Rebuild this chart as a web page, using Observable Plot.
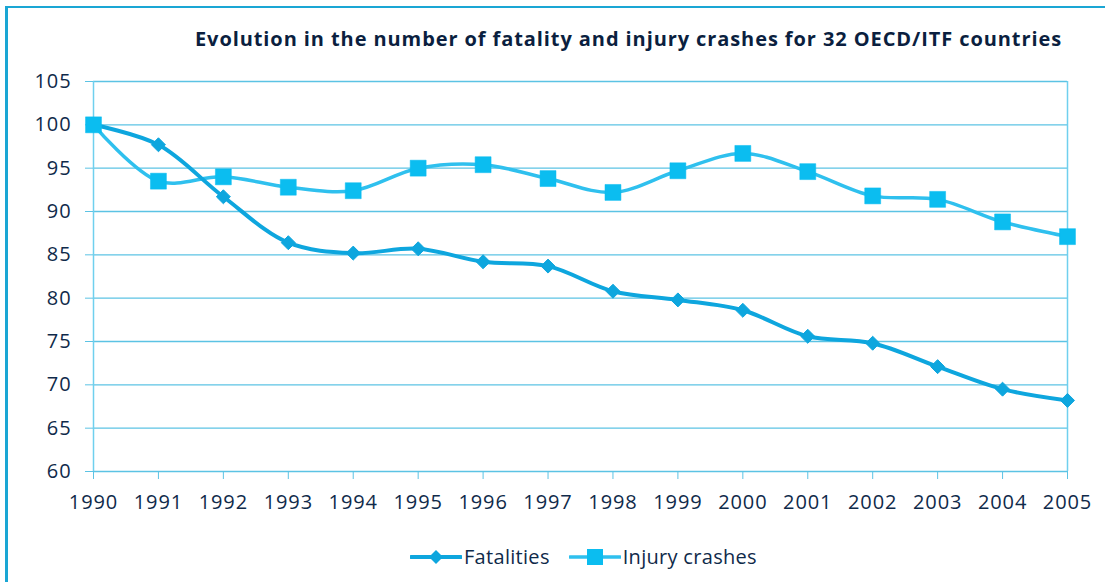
<!DOCTYPE html>
<html>
<head>
<meta charset="utf-8">
<script src="https://cdn.jsdelivr.net/npm/d3@7"></script>
<script src="https://cdn.jsdelivr.net/npm/@observablehq/plot@0.6"></script>
<style>
  html, body { margin: 0; padding: 0; background: #fff; }
  #frame { position: relative; width: 1105px; height: 582px; overflow: hidden; background: #fff; }
  #border { position: absolute; left: 5px; top: 6px; right: -10px; bottom: -10px;
            border-left: 3px solid #1aa6d4; border-top: 2px solid #1aa6d4; }
  #title { position: absolute; top: 25px; left: 195px; white-space: nowrap;
           font-family: "Open Sans", sans-serif; font-weight: 700; font-size: 20px;
           color: #0b1f3f; }
  #chart { position: absolute; left: 0; top: 0; }
  #legend { position: absolute; top: 543px; left: 410px; display: flex; align-items: center;
            font-family: "Open Sans", sans-serif; font-size: 20px; letter-spacing: 0.3px; color: #0f2a4a; white-space: nowrap; }
  .item { display: flex; align-items: center; }
  .item svg { display: block; }
  #chart text { letter-spacing: 0.9px; }
</style>
</head>
<body>
<div id="frame">
  <div id="border"></div>
  <div id="title">Evolution in the number of fatality and injury crashes for 32 OECD/ITF countries</div>
  <div id="chart"></div>
  <div id="legend"></div>
</div>
<script>
const years = [1990, 1991, 1992, 1993, 1994, 1995, 1996, 1997, 1998, 1999, 2000, 2001, 2002, 2003, 2004, 2005];
const fatalities = [100, 97.7, 91.7, 86.4, 85.2, 85.7, 84.2, 83.7, 80.8, 79.8, 78.6, 75.6, 74.8, 72.1, 69.5, 68.2];
const injuryCrashes = [100, 93.5, 94.0, 92.8, 92.4, 95.0, 95.4, 93.8, 92.2, 94.7, 96.7, 94.6, 91.8, 91.4, 88.8, 87.1];
const yTicks = [60, 65, 70, 75, 80, 85, 90, 95, 100, 105];
const seriesNames = ["Fatalities", "Injury crashes"];

const fatColor = "#0ea6de";
const injLine = "#2fc0ee";
const injMark = "#0bbdf0";
const gridColor = "#5cc3e4";
const textColor = "#0f2a4a";

const fatData = years.map((y, i) => ({year: y, value: fatalities[i]}));
const injData = years.map((y, i) => ({year: y, value: injuryCrashes[i]}));

const chart = Plot.plot({
  width: 1105,
  height: 520,
  marginLeft: 93,
  marginRight: 38,
  marginTop: 81,
  marginBottom: 49,
  style: {fontFamily: "'Open Sans', sans-serif", fontSize: "20px", color: textColor, background: "transparent", overflow: "visible"},
  x: {type: "linear", domain: [1990, 2005]},
  y: {domain: [60, 105]},
  marks: [
    Plot.gridY(yTicks, {stroke: gridColor, strokeOpacity: 1, strokeWidth: 1.3}),
    Plot.ruleX([1990, 2005], {y1: 60, y2: 105, stroke: "#6fd0ee", strokeWidth: 1.5}),
    Plot.axisY(yTicks, {tickSize: 8, tickPadding: 14, stroke: gridColor, strokeOpacity: 1, fill: textColor, label: null, tickFormat: d => String(d), fontSize: 20}),
    Plot.axisX(years, {tickSize: 8, tickPadding: 15, stroke: gridColor, strokeOpacity: 1, fill: textColor, label: null, tickFormat: d => String(d), fontSize: 20}),
    Plot.line(injData, {x: "year", y: "value", stroke: injLine, strokeWidth: 3.5, curve: "catmull-rom"}),
    Plot.line(fatData, {x: "year", y: "value", stroke: fatColor, strokeWidth: 4, curve: "catmull-rom"}),
    Plot.dot(fatData, {x: "year", y: "value", symbol: "diamond2", r: 6.3, fill: fatColor, stroke: fatColor, strokeWidth: 1}),
    Plot.dot(injData, {x: "year", y: "value", symbol: "square", r: 9, fill: injMark, stroke: injMark, strokeWidth: 0.5})
  ]
});
document.getElementById("chart").appendChild(chart);

// stretch title to the reference width
const title = document.getElementById("title");
const target = 867;
const w = title.getBoundingClientRect().width;
const n = title.textContent.length;
title.style.letterSpacing = ((target - w) / n) + "px";

// legend
const legend = document.getElementById("legend");
const legendDefs = [
  {name: seriesNames[0], color: fatColor, width: 4, symbol: "diamond"},
  {name: seriesNames[1], color: injLine, mark: injMark, width: 3.5, symbol: "square"}
];
legendDefs.forEach((d, i) => {
  const item = document.createElement("div");
  item.className = "item";
  if (i > 0) item.style.marginLeft = "19px";
  const ns = "http://www.w3.org/2000/svg";
  const s = document.createElementNS(ns, "svg");
  s.setAttribute("width", 52); s.setAttribute("height", 24);
  const l = document.createElementNS(ns, "line");
  l.setAttribute("x1", 1); l.setAttribute("x2", 51); l.setAttribute("y1", 12); l.setAttribute("y2", 12);
  l.setAttribute("stroke", d.color); l.setAttribute("stroke-width", d.width); l.setAttribute("stroke-linecap", "round");
  s.appendChild(l);
  const m = document.createElementNS(ns, "path");
  if (d.symbol === "diamond") m.setAttribute("d", "M26,5L33,12L26,19L19,12Z");
  else m.setAttribute("d", "M18,4H34V20H18Z");
  m.setAttribute("fill", d.mark || d.color);
  s.appendChild(m);
  item.appendChild(s);
  const t = document.createElement("span");
  t.textContent = d.name;
  t.style.marginLeft = "2px";
  item.appendChild(t);
  legend.appendChild(item);
});
</script>
</body>
</html>
